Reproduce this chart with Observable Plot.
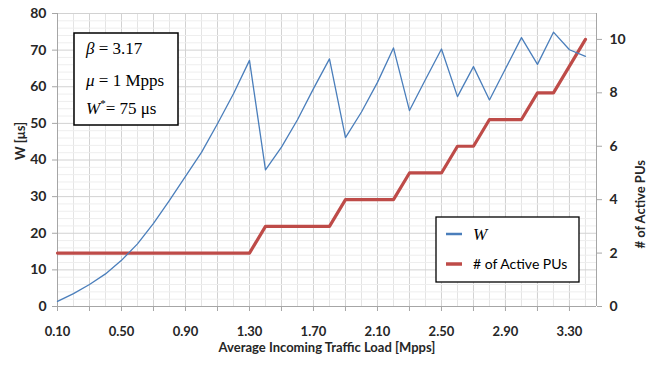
<!DOCTYPE html>
<html><head><meta charset="utf-8">
<script src="https://cdn.jsdelivr.net/npm/d3@7"></script>
<script src="https://cdn.jsdelivr.net/npm/@observablehq/plot@0.6"></script>
<style>
body{margin:0;background:#fff;}
#chart{width:660px;height:365px;}
</style></head><body><div id="chart"></div>
<script>
// ---- data ----
const load = [0.1,0.2,0.3,0.4,0.5,0.6,0.7,0.8,0.9,1.0,1.1,1.2,1.3,1.4,1.5,1.6,1.7,1.8,1.9,2.0,2.1,2.2,2.3,2.4,2.5,2.6,2.7,2.8,2.9,3.0,3.1,3.2,3.3,3.4];
const waitW = [1.4,3.5,6.0,8.9,12.6,17.1,22.7,29.0,35.5,42.1,49.9,58.1,67.2,37.3,43.5,51.0,59.5,67.6,46.1,53.1,61.2,70.6,53.5,62.0,70.3,57.3,65.5,56.4,64.9,73.4,66.1,74.9,70.1,68.3];
const activePUs = [2,2,2,2,2,2,2,2,2,2,2,2,2,3,3,3,3,3,4,4,4,4,5,5,5,6,6,7,7,7,8,8,9,10];
const xTickLabels = [0.1,0.5,0.9,1.3,1.7,2.1,2.5,2.9,3.3];
const xTickMarks = [0.1,0.3,0.5,0.7,0.9,1.1,1.3,1.5,1.7,1.9,2.1,2.3,2.5,2.7,2.9,3.1,3.3];
const yLeftTicks = [0,10,20,30,40,50,60,70,80];
const yMinorGrid = [2,4,6,8,12,14,16,18,22,24,26,28,32,34,36,38,42,44,46,48,52,54,56,58,62,64,66,68,72,74,76,78];
const yRightTicks = [0,2,4,6,8,10];
const xDomain = [0.1, 3.469];
const yLeftMax = 80, yRightMax = 10.97;
const k = yLeftMax / yRightMax;

const rows = load.map((x, i) => ({x, w: waitW[i], pu: activePUs[i] * k}));
const font = "Lato, 'Liberation Sans', sans-serif";
const axisColor = "#262626";

const chart = Plot.plot({
  width: 660, height: 365,
  marginLeft: 57, marginRight: 64, marginTop: 13, marginBottom: 59,
  x: {domain: xDomain},
  y: {domain: [0, yLeftMax]},
  style: {fontFamily: font, fontSize: "14px", color: axisColor, background: "white", overflow: "visible"},
  marks: [
    Plot.ruleX(load, {stroke: "#e4e4e4", strokeWidth: 1}),
    Plot.ruleX(xTickMarks, {stroke: "#d2d2d2", strokeWidth: 1}),
    Plot.ruleY(yMinorGrid, {stroke: "#eeeeee", strokeWidth: 1}),
    Plot.ruleY(yLeftTicks, {stroke: "#d2d2d2", strokeWidth: 1}),
    Plot.ruleX([xDomain[0], xDomain[1]], {stroke: "#a6a6a6", strokeWidth: 1}),
    Plot.ruleY([0], {stroke: "#a6a6a6", strokeWidth: 1}),
    Plot.line(rows, {x: "x", y: "pu", stroke: "#be4b48", strokeWidth: 3.2}),
    Plot.line(rows, {x: "x", y: "w", stroke: "#4a7ebb", strokeWidth: 1.3}),
    Plot.axisY(yLeftTicks, {anchor: "left", tickSize: 5, tickPadding: 6, label: null, stroke: "#a6a6a6", fill: axisColor, fontWeight: "bold", fontSize: 14}),
    Plot.axisY(yRightTicks.map(d => d * k), {anchor: "right", tickSize: 5, tickPadding: 8, label: null, tickFormat: d => Math.round(d / k), stroke: "#a6a6a6", fill: axisColor, fontWeight: "bold", fontSize: 14}),
    Plot.axisX(xTickMarks, {anchor: "bottom", tickSize: 5, tickFormat: () => "", label: null, stroke: "#a6a6a6"}),
    Plot.axisX(xTickLabels, {anchor: "bottom", tickSize: 0, tickPadding: 20, label: null, tickFormat: d => d.toFixed(2), fill: axisColor, fontWeight: "bold", fontSize: 13}),
    Plot.text(["Average Incoming Traffic Load [Mpps]"], {frameAnchor: "bottom", dy: 45, fontWeight: "bold", fontSize: 13, fill: axisColor}),
    Plot.text(["W [μs]"], {frameAnchor: "left", dx: -37, rotate: -90, fontWeight: "bold", fontSize: 13, fill: axisColor}),
    Plot.text(["# of Active PUs"], {frameAnchor: "right", dx: 44, rotate: -90, fontWeight: "bold", fontSize: 13, fill: axisColor})
  ]
});
document.getElementById("chart").appendChild(chart);

const svg = d3.select(chart);
// annotation box
const ann = svg.append("g").attr("font-family", "'Liberation Serif', 'DejaVu Serif', serif").attr("font-size", 17).attr("fill", "#000").attr("text-anchor", "start");
ann.append("rect").attr("x", 74).attr("y", 33).attr("width", 104).attr("height", 92).attr("fill", "white").attr("stroke", "#000").attr("stroke-width", 1.5);
const t1 = ann.append("text").attr("x", 86).attr("y", 54);
t1.append("tspan").attr("font-style", "italic").text("β");
t1.append("tspan").text(" = 3.17");
const t2 = ann.append("text").attr("x", 86).attr("y", 86);
t2.append("tspan").attr("font-style", "italic").text("μ");
t2.append("tspan").text(" = 1 Mpps");
const t3 = ann.append("text").attr("x", 86).attr("y", 114);
t3.append("tspan").attr("font-style", "italic").text("W");
t3.append("tspan").attr("font-size", 11).attr("dy", -7).text("*");
t3.append("tspan").attr("dy", 7).text("= 75 μs");

// legend
const leg = svg.append("g").attr("text-anchor", "start");
leg.append("rect").attr("x", 436).attr("y", 217).attr("width", 143).attr("height", 65).attr("fill", "white").attr("stroke", "#000").attr("stroke-width", 1.3);
leg.append("line").attr("x1", 446).attr("x2", 462).attr("y1", 234).attr("y2", 234).attr("stroke", "#4a7ebb").attr("stroke-width", 2.5);
leg.append("text").attr("x", 473).attr("y", 240).attr("font-family", "'Liberation Serif', serif").attr("font-style", "italic").attr("font-size", 17).attr("fill", "#000").text("W");
leg.append("line").attr("x1", 446).attr("x2", 462).attr("y1", 264).attr("y2", 264).attr("stroke", "#be4b48").attr("stroke-width", 3.5);
leg.append("text").attr("x", 473).attr("y", 269).attr("font-family", font).attr("font-size", 14).attr("fill", "#000").text("# of Active PUs");
</script></body></html>
